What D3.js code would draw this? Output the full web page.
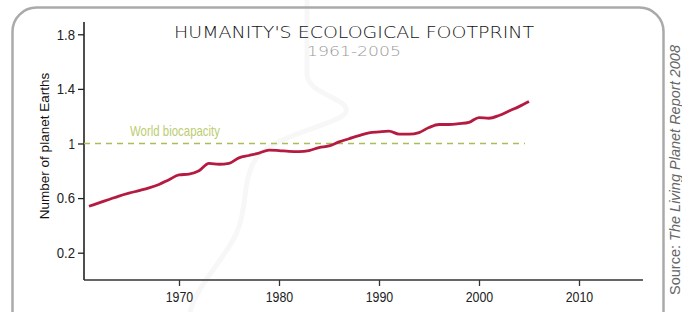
<!DOCTYPE html>
<html><head><meta charset="utf-8">
<script src="https://cdn.jsdelivr.net/npm/d3@7"></script>
<style>
html,body{margin:0;padding:0;background:#fff;}
svg{display:block;}
</style></head>
<body>
<svg id="chart" width="682" height="312"></svg>
<script>
const years = d3.range(1961, 2006);
const footprint = [0.540,0.565,0.590,0.615,0.636,0.655,0.675,0.700,0.735,0.770,
  0.776,0.800,0.855,0.848,0.855,0.895,0.912,0.930,0.952,0.948,
  0.942,0.940,0.948,0.970,0.982,1.012,1.035,1.058,1.078,1.085,
  1.090,1.069,1.068,1.080,1.117,1.139,1.139,1.145,1.155,1.190,
  1.185,1.205,1.238,1.270,1.307];
const biocapacity = 1;
const yTicks = [0.2, 0.6, 1, 1.4, 1.8];
const yTickLabels = ["0.2", "0.6", "1", "1.4", "1.8"];
const xTicks = [1970, 1980, 1990, 2000, 2010];
const titleText = "HUMANITY'S ECOLOGICAL FOOTPRINT";
const subtitleText = "1961-2005";
const yLabel = "Number of planet Earths";
const bioLabel = "World biocapacity";

const svg = d3.select("#chart");
const mLeft = 84, mRight = 643, mTop = 22, mBottom = 280;

// faint background watermark curve
svg.append("path")
  .attr("d", "M307,0 L307,75 C309,95 350,98 346,112 C340,125 270,135 255,160 C240,185 250,215 230,245 C215,270 195,290 190,312")
  .attr("fill", "none").attr("stroke", "#f7f7f7").attr("stroke-width", 5);

// frame
svg.append("rect").attr("x", 12.5).attr("y", 7.5).attr("width", 651).attr("height", 340)
  .attr("rx", 24).attr("ry", 24)
  .attr("fill", "none").attr("stroke", "#aaaaaa").attr("stroke-width", 2.5);

const x = d3.scaleLinear().domain([1960.5, 2016.4]).range([mLeft, mRight]);
const y = d3.scaleLinear().domain([0, 1.89]).range([mBottom, mTop]);

const narrow = "'Liberation Sans', Arial, sans-serif";

// y axis
const yAxis = svg.append("g").attr("transform", `translate(${mLeft},0)`)
  .call(d3.axisLeft(y).tickValues(yTicks).tickSize(6).tickFormat((d,i)=>yTickLabels[i]));
yAxis.select(".domain").attr("d", `M0,${mTop}V${mBottom}`).attr("stroke", "#222").attr("stroke-width", 1.6);
yAxis.selectAll(".tick line").attr("stroke", "#222").attr("stroke-width", 1.3);
yAxis.selectAll(".tick text").attr("font-family", narrow).attr("font-size", 15)
  .attr("fill", "#222").attr("x", -9)
  .each(function(d,i){ const s=yTickLabels[i]; d3.select(this).attr("textLength", s.length===1?6.5:18.3).attr("lengthAdjust","spacingAndGlyphs"); });

// x axis
const xAxis = svg.append("g").attr("transform", `translate(0,${mBottom})`)
  .call(d3.axisBottom(x).tickValues(xTicks).tickSize(6).tickFormat(d3.format("d")));
xAxis.select(".domain").attr("d", `M${mLeft},0H${mRight}`).attr("stroke", "#333").attr("stroke-width", 1.6);
xAxis.selectAll(".tick line").attr("stroke", "#333").attr("stroke-width", 1.3);
xAxis.selectAll(".tick text").attr("font-family", narrow).attr("font-size", 15.5)
  .attr("fill", "#222").attr("y", 11)
  .attr("textLength", 27.5).attr("lengthAdjust", "spacingAndGlyphs");

// biocapacity dashed line
svg.append("line")
  .attr("x1", mLeft).attr("x2", x(years[years.length-1]) - 4)
  .attr("y1", y(biocapacity)).attr("y2", y(biocapacity))
  .attr("stroke", "#a9bf55").attr("stroke-width", 1.3).attr("stroke-dasharray", "6,5");
svg.append("text").attr("x", 130).attr("y", 136)
  .attr("font-family", narrow).attr("font-size", 15).attr("fill", "#bccd72")
  .attr("textLength", 90).attr("lengthAdjust", "spacingAndGlyphs")
  .text(bioLabel);

// footprint line
const line = d3.line().x((d,i)=>x(years[i])).y(d=>y(d)).curve(d3.curveMonotoneX);
svg.append("path").datum(footprint).attr("d", line)
  .attr("fill", "none").attr("stroke", "#b51b41").attr("stroke-width", 2.8)
  .attr("stroke-linejoin", "round").attr("stroke-linecap", "butt");

// title
svg.append("text").attr("x", 354).attr("y", 38).attr("text-anchor", "middle")
  .attr("font-family", "'DejaVu Sans', sans-serif").attr("font-weight", 300).attr("font-size", 16)
  .attr("fill", "#111").attr("textLength", 360).attr("lengthAdjust", "spacingAndGlyphs")
  .text(titleText);
svg.append("text").attr("x", 354).attr("y", 56).attr("text-anchor", "middle")
  .attr("font-family", "'DejaVu Sans', sans-serif").attr("font-weight", 300).attr("font-size", 14.5)
  .attr("fill", "#999").attr("textLength", 94).attr("lengthAdjust", "spacingAndGlyphs")
  .text(subtitleText);

// y label
svg.append("text").attr("transform", "translate(49,146) rotate(-90)").attr("text-anchor", "middle")
  .attr("font-family", "'Liberation Sans', Arial, sans-serif").attr("font-size", 13.5).attr("fill", "#111")
  .text(yLabel);

// source
const src = svg.append("text").attr("transform", "translate(680,170) rotate(-90)").attr("text-anchor", "middle")
  .attr("font-family", "'Liberation Sans', Arial, sans-serif").attr("font-size", 14.5).attr("fill", "#666");
src.append("tspan").text("Source: ");
src.append("tspan").attr("font-style", "italic").text("The Living Planet Report 2008");
</script>
</body></html>
